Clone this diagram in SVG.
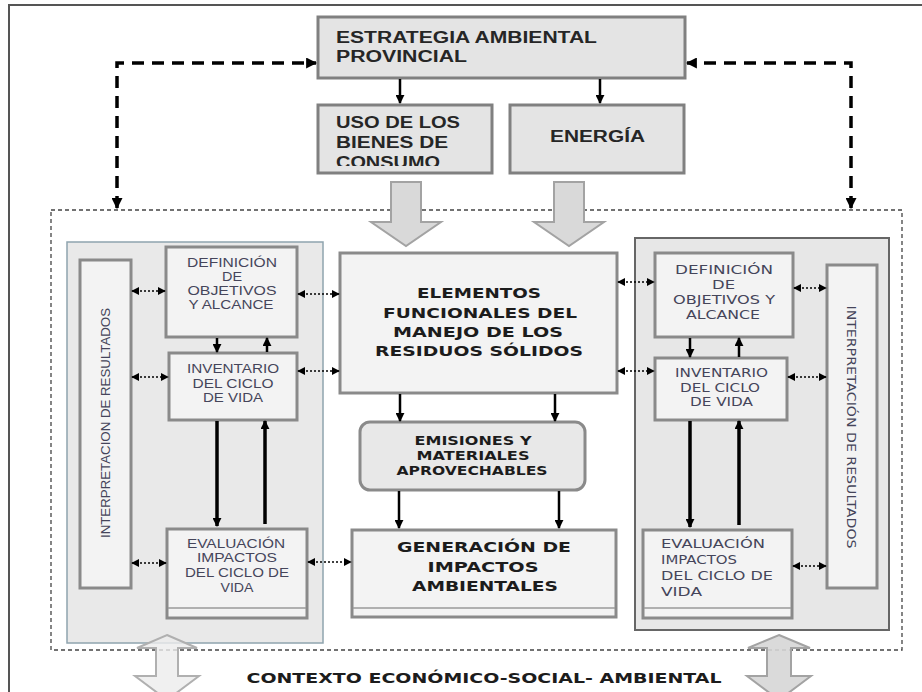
<svg xmlns="http://www.w3.org/2000/svg" width="922" height="692" viewBox="0 0 922 692">
<style>
.box{fill:#e4e4e4;stroke:#808080;stroke-width:3}
.wbox{fill:#f3f3f3;stroke:#8a8a8a;stroke-width:3}
.inner{stroke:#9a9a9a;stroke-width:1.5;fill:none}
.tb{font-family:"Liberation Sans",Arial,sans-serif;font-weight:bold;font-size:16px;fill:#262626}
.cb{font-family:"DejaVu Sans",Verdana,sans-serif;font-weight:bold;font-size:14px;fill:#1c1c1c;text-anchor:middle}
.cs{font-family:"DejaVu Sans",Verdana,sans-serif;font-weight:bold;font-size:12px;fill:#1c1c1c;text-anchor:middle}
.sl{font-family:"Liberation Sans",Arial,sans-serif;font-size:13.5px;fill:#45455a;text-anchor:middle}
.sr{font-family:"DejaVu Sans",Verdana,sans-serif;font-size:12.5px;fill:#45455a}
.solid{stroke:#000;stroke-width:2.5;fill:none}
.thick{stroke:#000;stroke-width:3.5;fill:none}
.dot{stroke:#000;stroke-width:1.6;stroke-dasharray:2 2;fill:none}
.dash{stroke:#000;stroke-width:3.5;stroke-dasharray:12 8;fill:none}
.hollow{fill:#d9d9d9;stroke:#a3a3a3;stroke-width:2}
</style>
<defs>
<marker id="ah" viewBox="0 0 10 10" refX="9" refY="5" markerWidth="9" markerHeight="9" markerUnits="userSpaceOnUse" orient="auto-start-reverse"><path d="M0,0 L10,5 L0,10 z" fill="#000"/></marker>
<marker id="ahs" viewBox="0 0 10 10" refX="9" refY="5" markerWidth="8" markerHeight="8" markerUnits="userSpaceOnUse" orient="auto-start-reverse"><path d="M0,0 L10,5 L0,10 z" fill="#000"/></marker>
<marker id="ahl" viewBox="0 0 10 10" refX="9" refY="5" markerWidth="11" markerHeight="11" markerUnits="userSpaceOnUse" orient="auto-start-reverse"><path d="M0,0 L10,5 L0,10 z" fill="#000"/></marker>
<clipPath id="usoclip"><rect x="318" y="105" width="174" height="61"/></clipPath>
</defs>

<rect width="922" height="692" fill="#fff"/>
<path d="M9,692 V5 H922" fill="none" stroke="#555" stroke-width="2"/>

<g id="context-frame">
<rect x="51" y="210" width="851" height="440" fill="none" stroke="#444" stroke-width="1.3" stroke-dasharray="4 3"/>
</g>

<g id="left-panel">
<rect x="67" y="242" width="256" height="401" fill="#e9e9e9" stroke="#8fa4ae" stroke-width="1.5"/>
</g>
<g id="right-panel">
<rect x="635" y="238" width="254" height="392" fill="#e7e7e7" stroke="#666" stroke-width="2"/>
</g>

<g id="estrategia">
<rect class="box" x="318" y="17" width="367" height="61"/>
<text class="tb" x="336" y="43" textLength="261" lengthAdjust="spacingAndGlyphs">ESTRATEGIA AMBIENTAL</text>
<text class="tb" x="336" y="62" textLength="131" lengthAdjust="spacingAndGlyphs">PROVINCIAL</text>
</g>
<g id="uso">
<rect class="box" x="318" y="105" width="174" height="68"/>
<g clip-path="url(#usoclip)">
<text class="tb" x="336" y="128" textLength="124" lengthAdjust="spacingAndGlyphs">USO DE LOS</text>
<text class="tb" x="336" y="148" textLength="112" lengthAdjust="spacingAndGlyphs">BIENES DE</text>
<text class="tb" x="336" y="168" textLength="104" lengthAdjust="spacingAndGlyphs">CONSUMO</text>
</g>
</g>
<g id="energia">
<rect class="box" x="510" y="105" width="174" height="68"/>
<text class="tb" x="550" y="142" textLength="95" lengthAdjust="spacingAndGlyphs">ENERGÍA</text>
</g>

<g id="elementos">
<rect class="wbox" x="340" y="253" width="277" height="140"/>
<text class="cb" x="479" y="298" textLength="124" lengthAdjust="spacingAndGlyphs">ELEMENTOS</text>
<text class="cb" x="480" y="318" textLength="194" lengthAdjust="spacingAndGlyphs">FUNCIONALES DEL</text>
<text class="cb" x="478" y="337" textLength="170" lengthAdjust="spacingAndGlyphs">MANEJO DE LOS</text>
<text class="cb" x="479" y="356" textLength="208" lengthAdjust="spacingAndGlyphs">RESIDUOS SÓLIDOS</text>
</g>
<g id="emisiones">
<rect x="360" y="422" width="225" height="68" rx="10" fill="#e8e8e8" stroke="#8a8a8a" stroke-width="3"/>
<text class="cs" x="473" y="445" textLength="117" lengthAdjust="spacingAndGlyphs">EMISIONES Y</text>
<text class="cs" x="473" y="460" textLength="113" lengthAdjust="spacingAndGlyphs">MATERIALES</text>
<text class="cs" x="472" y="475" textLength="151" lengthAdjust="spacingAndGlyphs">APROVECHABLES</text>
</g>
<g id="generacion">
<rect class="wbox" x="352" y="530" width="264" height="87"/>
<line class="inner" x1="353" y1="608" x2="615" y2="608"/>
<text class="cb" x="484" y="552" textLength="174" lengthAdjust="spacingAndGlyphs">GENERACIÓN DE</text>
<text class="cb" x="483" y="572" textLength="111" lengthAdjust="spacingAndGlyphs">IMPACTOS</text>
<text class="cb" x="485" y="591" textLength="146" lengthAdjust="spacingAndGlyphs">AMBIENTALES</text>
</g>

<g id="left-interpretacion">
<rect class="wbox" x="80" y="260" width="51" height="328"/>
<text class="sl" transform="translate(110,423) rotate(-90)" textLength="230" lengthAdjust="spacingAndGlyphs">INTERPRETACION DE RESULTADOS</text>
</g>
<g id="left-definicion">
<rect class="wbox" x="166" y="247" width="131" height="90"/>
<text class="sl" x="232" y="267" textLength="90" lengthAdjust="spacingAndGlyphs">DEFINICIÓN</text>
<text class="sl" x="232" y="281" textLength="20" lengthAdjust="spacingAndGlyphs">DE</text>
<text class="sl" x="232" y="295" textLength="89" lengthAdjust="spacingAndGlyphs">OBJETIVOS</text>
<text class="sl" x="231" y="309" textLength="85" lengthAdjust="spacingAndGlyphs">Y ALCANCE</text>
</g>
<g id="left-inventario">
<rect class="wbox" x="169" y="353" width="128" height="67"/>
<text class="sl" x="233" y="373" textLength="92" lengthAdjust="spacingAndGlyphs">INVENTARIO</text>
<text class="sl" x="233" y="388" textLength="81" lengthAdjust="spacingAndGlyphs">DEL CICLO</text>
<text class="sl" x="233" y="402" textLength="60" lengthAdjust="spacingAndGlyphs">DE VIDA</text>
</g>
<g id="left-evaluacion">
<rect class="wbox" x="167" y="529" width="140" height="89"/>
<line class="inner" x1="168" y1="608" x2="306" y2="608"/>
<text class="sl" x="236" y="548" textLength="98" lengthAdjust="spacingAndGlyphs">EVALUACIÓN</text>
<text class="sl" x="237" y="562" textLength="80" lengthAdjust="spacingAndGlyphs">IMPACTOS</text>
<text class="sl" x="237" y="577" textLength="104" lengthAdjust="spacingAndGlyphs">DEL CICLO DE</text>
<text class="sl" x="237" y="592" textLength="33" lengthAdjust="spacingAndGlyphs">VIDA</text>
</g>

<g id="right-definicion">
<rect class="wbox" x="655" y="253" width="138" height="84"/>
<text class="sr" x="675" y="274" textLength="98" lengthAdjust="spacingAndGlyphs">DEFINICIÓN</text>
<text class="sr" x="712" y="289" textLength="23" lengthAdjust="spacingAndGlyphs">DE</text>
<text class="sr" x="673" y="304" textLength="102" lengthAdjust="spacingAndGlyphs">OBJETIVOS Y</text>
<text class="sr" x="686" y="319" textLength="74" lengthAdjust="spacingAndGlyphs">ALCANCE</text>
</g>
<g id="right-inventario">
<rect class="wbox" x="655" y="358" width="132" height="62"/>
<text class="sr" x="675" y="377" textLength="93" lengthAdjust="spacingAndGlyphs">INVENTARIO</text>
<text class="sr" x="680" y="392" textLength="80" lengthAdjust="spacingAndGlyphs">DEL CICLO</text>
<text class="sr" x="690" y="406" textLength="63" lengthAdjust="spacingAndGlyphs">DE VIDA</text>
</g>
<g id="right-evaluacion">
<rect class="wbox" x="643" y="530" width="149" height="88"/>
<line class="inner" x1="644" y1="608" x2="791" y2="608"/>
<text class="sr" x="661" y="548" textLength="104" lengthAdjust="spacingAndGlyphs">EVALUACIÓN</text>
<text class="sr" x="661" y="564" textLength="76" lengthAdjust="spacingAndGlyphs">IMPACTOS</text>
<text class="sr" x="661" y="580" textLength="112" lengthAdjust="spacingAndGlyphs">DEL CICLO DE</text>
<text class="sr" x="661" y="596" textLength="41" lengthAdjust="spacingAndGlyphs">VIDA</text>
</g>
<g id="right-interpretacion">
<rect class="wbox" x="827" y="265" width="50" height="323"/>
<text class="sr" text-anchor="middle" transform="translate(847,427) rotate(90)" textLength="243" lengthAdjust="spacingAndGlyphs">INTERPRETACIÓN DE RESULTADOS</text>
</g>

<g id="connectors">
<path class="dash" d="M117,208 V63 H316" marker-start="url(#ahl)" marker-end="url(#ahl)"/>
<path class="dash" d="M851,208 V63 H687" marker-start="url(#ahl)" marker-end="url(#ahl)"/>
<line class="solid" x1="400" y1="79" x2="400" y2="103" marker-end="url(#ah)"/>
<line class="solid" x1="600" y1="79" x2="600" y2="103" marker-end="url(#ah)"/>
<polygon class="hollow" points="391,182 421,182 421,222 441,222 406,246 371,222 391,222"/>
<polygon class="hollow" points="554,182 584,182 584,222 604,222 569,246 534,222 554,222"/>
<line class="solid" x1="400" y1="394" x2="400" y2="421" marker-end="url(#ah)"/>
<line class="solid" x1="555" y1="394" x2="555" y2="421" marker-end="url(#ah)"/>
<line class="solid" x1="399" y1="491" x2="399" y2="528" marker-end="url(#ah)"/>
<line class="solid" x1="559" y1="491" x2="559" y2="528" marker-end="url(#ah)"/>
<line class="solid" x1="217" y1="338" x2="217" y2="352" marker-end="url(#ah)"/>
<line class="solid" x1="267" y1="352" x2="267" y2="338" marker-end="url(#ah)"/>
<line class="thick" x1="217" y1="421" x2="217" y2="526" marker-end="url(#ah)"/>
<line class="thick" x1="265" y1="524" x2="265" y2="421" marker-end="url(#ah)"/>
<line class="solid" x1="690" y1="338" x2="690" y2="357" marker-end="url(#ah)"/>
<line class="solid" x1="739" y1="357" x2="739" y2="338" marker-end="url(#ah)"/>
<line class="thick" x1="690" y1="421" x2="690" y2="527" marker-end="url(#ah)"/>
<line class="thick" x1="739" y1="525" x2="739" y2="421" marker-end="url(#ah)"/>
<line class="dot" x1="132" y1="291" x2="165" y2="291" marker-start="url(#ahs)" marker-end="url(#ahs)"/>
<line class="dot" x1="132" y1="377" x2="168" y2="377" marker-start="url(#ahs)" marker-end="url(#ahs)"/>
<line class="dot" x1="132" y1="563" x2="166" y2="563" marker-start="url(#ahs)" marker-end="url(#ahs)"/>
<line class="dot" x1="298" y1="294" x2="339" y2="294" marker-start="url(#ahs)" marker-end="url(#ahs)"/>
<line class="dot" x1="298" y1="371" x2="339" y2="371" marker-start="url(#ahs)" marker-end="url(#ahs)"/>
<line class="dot" x1="308" y1="562" x2="351" y2="562" marker-start="url(#ahs)" marker-end="url(#ahs)"/>
<line class="dot" x1="618" y1="282" x2="654" y2="282" marker-start="url(#ahs)" marker-end="url(#ahs)"/>
<line class="dot" x1="618" y1="371" x2="654" y2="371" marker-start="url(#ahs)" marker-end="url(#ahs)"/>
<line class="dot" x1="794" y1="288" x2="826" y2="288" marker-start="url(#ahs)" marker-end="url(#ahs)"/>
<line class="dot" x1="788" y1="377" x2="826" y2="377" marker-start="url(#ahs)" marker-end="url(#ahs)"/>
<line class="dot" x1="793" y1="566" x2="826" y2="566" marker-start="url(#ahs)" marker-end="url(#ahs)"/>
<polygon points="167,635 197,648 178,648 178,676 199,676 167,700 135,676 156,676 156,648 137,648" fill="#ececec" fill-opacity="0.8" stroke="#b0b0b0" stroke-width="2"/>
<polygon points="779,635 810,648 791,648 791,676 811,676 779,700 747,676 767,676 767,648 748,648" fill="#d6d6d6" fill-opacity="0.9" stroke="#a3a3a3" stroke-width="2"/>
</g>

<g id="contexto">
<text class="cb" x="484" y="683" font-size="15" textLength="475" lengthAdjust="spacingAndGlyphs">CONTEXTO ECONÓMICO-SOCIAL- AMBIENTAL</text>
</g>
</svg>
